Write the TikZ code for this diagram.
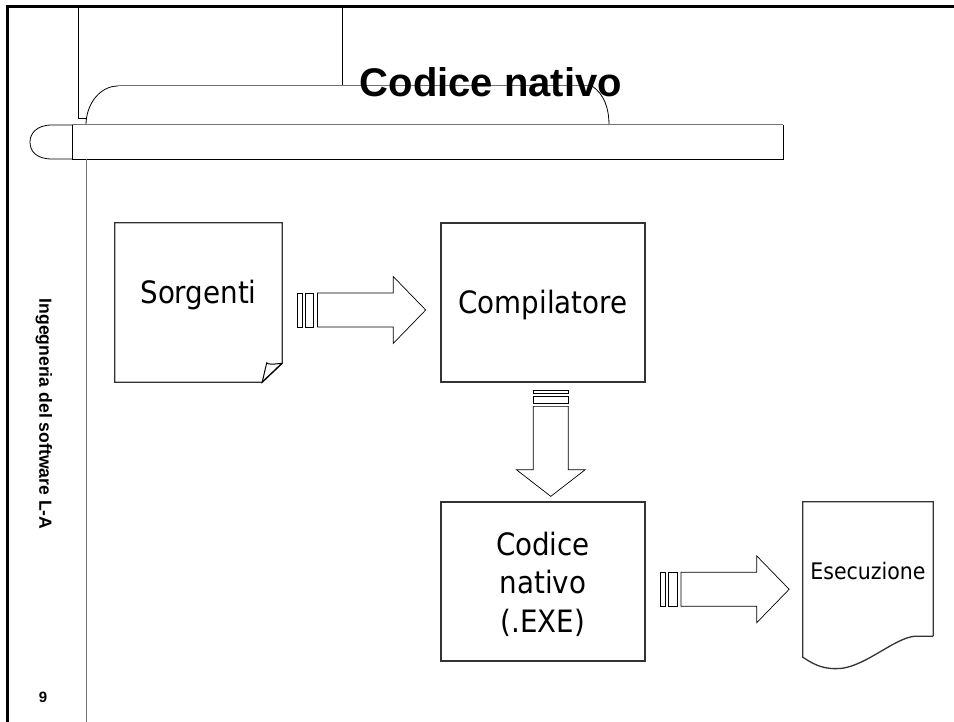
\documentclass[tikz,border=0pt]{standalone}
\usepackage{fontspec}
\setmainfont{DejaVu Sans Condensed}
\newfontfamily\headfont{Liberation Sans}
\usetikzlibrary{calc}

\tikzset{
  frameline/.style={line width=3pt, black},
  thinline/.style={line width=0.8pt, black},
  greyline/.style={line width=1pt, black!55},
  boxline/.style={line width=1.3pt, draw=black!80},
  arrowline/.style={line width=0.7pt, black, fill=white},
  boxtext/.style={font=\fontsize{30.8}{38.5}\selectfont, text=black, inner sep=0pt, align=center},
  % horizontal striped block arrow, origin at the left end of the stripes
  pics/rblock/.style={code={
    \draw[arrowline] (0,-17) rectangle (4.7,17);
    \draw[arrowline] (8,-17) rectangle (16.3,17);
    \draw[arrowline] (20.3,-17) -- (96,-17) -- (96,-33.5) -- (128.5,0)
      -- (96,33.5) -- (96,17) -- (20.3,17) -- cycle;
  }},
  % vertical striped block arrow, origin at the top of the stripes
  pics/dblock/.style={code={
    \draw[arrowline] (-17.5,0) rectangle (17.5,3.4);
    \draw[arrowline] (-17.5,6.7) rectangle (17.5,13.4);
    \draw[arrowline] (-17.5,16.4) -- (-17.5,79.7) -- (-34.5,79.7) -- (0,106.4)
      -- (34.5,79.7) -- (17.5,79.7) -- (17.5,16.4) -- cycle;
  }},
}

\begin{document}
\begin{tikzpicture}[x=1pt,y=-1pt]
\useasboundingbox (0,0) rectangle (954,722);
\fill[white] (0,0) rectangle (954,722);

% page frame
\draw[frameline] (7,722) -- (7,7) -- (954,7);

% header decoration
\draw[thinline] (78,7) -- (78,118) -- (86,118);
\draw[thinline] (342,7) -- (342,86);
\draw[thinline] (86,125) .. controls (86,104) and (100,86) .. (118,86);
\draw[greyline] (118,86) -- (592,86);
\draw[thinline] (592,86) .. controls (604,94) and (609,108) .. (609,125);
\draw[greyline] (72,125) -- (783,125);
\draw[thinline] (783,125) -- (783,159) -- (72,159) -- (72,125);
\draw[thinline] (72,125) -- (52,125) .. controls (36,125) and (30,134) .. (30,142)
  .. controls (30,151) and (36,159) .. (52,159) -- (72,159);
\draw[greyline] (86,159) -- (86,722);

\node[font=\headfont\bfseries\fontsize{40}{48}\selectfont, anchor=base, inner sep=0pt]
  (title) at (491,97) {Codice nativo};

% side labels
\node[rotate=-90, font=\headfont\bfseries\fontsize{17.6}{20}\selectfont, inner sep=0pt]
  (course) at (44,414) {Ingegneria del software L-A};
\node[font=\headfont\bfseries\fontsize{15}{18}\selectfont, inner sep=0pt]
  (pagenum) at (43,697) {9};

% boxes
\node[boxtext, minimum width=167, minimum height=159] (sorg) at (198.5,302.5) {};
\node[boxtext, anchor=base] (sorglabel) at (198.5,304) {Sorgenti};
\draw[boxline, line join=miter] (sorg.south west) -- (sorg.north west) -- (sorg.north east)
  -- ($(sorg.south east)+(0,-19)$) -- ($(sorg.south east)+(-20,0)$) -- cycle;
\draw[line width=1pt] ($(sorg.south east)+(0,-19)$) -- ($(sorg.south east)+(-20,0)$)
  -- ($(sorg.south east)+(-15.5,-19.3)$)
  .. controls ($(sorg.south east)+(-14,-17.6)$) and ($(sorg.south east)+(-9,-17.8)$)
  .. ($(sorg.south east)+(0,-19)$);

\node[boxtext, draw, boxline, minimum width=204, minimum height=159] (comp) at (543,302.5) {};
\node[boxtext, anchor=base] (complabel) at (543,314) {Compilatore};

\node[boxtext, draw, boxline, minimum width=204, minimum height=159] (cod) at (543,581.5) {};
\node[boxtext, anchor=base] (codline1) at (543,555) {Codice};
\node[boxtext, anchor=base] (codline2) at (543,593.5) {nativo};
\node[boxtext, anchor=base] (codline3) at (543,632) {(.EXE)};

\node[inner sep=0pt, minimum width=130, minimum height=134] (esec) at (868,569) {};
\node[font=\fontsize{22.8}{26}\selectfont, inner sep=0pt, anchor=base] (eseclabel) at (868,579.3) {Esecuzione};
\draw[boxline] (esec.south east) -- (esec.north east) -- (esec.north west) -- ($(esec.south west)+(0,21)$)
  .. controls ($(esec.south west)+(12,29)$) and ($(esec.south west)+(22,34)$) .. ($(esec.south west)+(40,32)$)
  .. controls ($(esec.south west)+(65,28)$) and ($(esec.south west)+(92,2)$) .. ($(esec.south west)+(112,0)$)
  -- (esec.south east);

% block arrows between the boxes
\pic at ($(sorg.east)+(15,7.5)$) {rblock};
\pic at ($(comp.south)+(7.8,7.3)$) {dblock};
\pic at ($(cod.east)+(15,7.8)$) {rblock};
\end{tikzpicture}
\end{document}
